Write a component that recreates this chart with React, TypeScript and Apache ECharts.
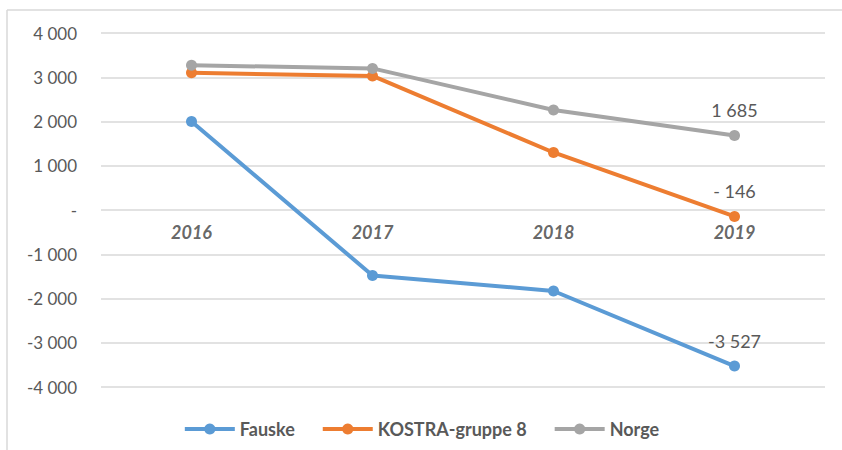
import React, { useEffect, useRef } from "react";
import * as echarts from "echarts";

const years = ["2016", "2017", "2018", "2019"];
const fauske = [2000, -1480, -1830, -3527];
const kostra = [3100, 3030, 1300, -146];
const norge = [3270, 3200, 2260, 1685];
const yTicks = [-4000, 4000, 1000];

const FONT = "Lato, 'Liberation Sans', sans-serif";

function fmtNum(v: number): string {
  const s = Math.abs(v).toString().replace(/\B(?=(\d{3})+(?!\d))/g, " ");
  return (v < 0 ? "-" : "") + s;
}
function fmtAxis(v: number): string {
  return v === 0 ? "-" : fmtNum(v);
}

export default function App() {
  const ref = useRef<HTMLDivElement>(null);
  useEffect(() => {
    if (!ref.current) return;
    const chart = echarts.init(ref.current, null, { renderer: "svg" });
    const last = years.length - 1;
    const mk = (name: string, data: number[], color: string, fmt: (v: number) => string) => ({
      name,
      type: "line",
      data: data.map((v, i) =>
        i === last
          ? {
              value: v,
              label: {
                show: true,
                position: "top",
                distance: 11,
                formatter: () => fmt(v),
                color: "#595959",
                fontSize: 18,
                fontFamily: FONT,
              },
            }
          : v
      ),
      symbol: "circle",
      symbolSize: 11,
      lineStyle: { color, width: 4 },
      itemStyle: { color },
      label: { show: false },
      z: 3,
    });
    chart.setOption({
      animation: false,
      backgroundColor: "#ffffff",
      color: ["#5b9bd5", "#ed7d31", "#a5a5a5"],
      grid: { left: 101, right: 17, top: 33, bottom: 63 },
      xAxis: {
        type: "category",
        data: years,
        boundaryGap: true,
        axisLine: { show: false },
        axisTick: { show: false },
        axisLabel: { show: false },
      },
      yAxis: {
        type: "value",
        min: yTicks[0],
        max: yTicks[1],
        interval: yTicks[2],
        axisLine: { show: false },
        axisTick: { show: false },
        splitLine: { lineStyle: { color: "#d9d9d9", width: 1.5 } },
        axisLabel: {
          margin: 24,
          fontSize: 17,
          color: "#595959",
          fontFamily: FONT,
          formatter: (v: number) => fmtAxis(v),
        },
      },
      legend: {
        bottom: 7,
        left: "center",
        itemWidth: 50,
        itemHeight: 14,
        itemGap: 26,
        lineStyle: { width: 4 },
        textStyle: { color: "#595959", fontSize: 18, fontWeight: "bold", fontFamily: FONT },
        data: ["Fauske", "KOSTRA-gruppe 8", "Norge"],
      },
      graphic: [
        { type: "line", shape: { x1: 7, y1: 10, x2: 842, y2: 10 }, style: { stroke: "#d9d9d9", lineWidth: 1.5 } },
        { type: "line", shape: { x1: 7, y1: 10, x2: 7, y2: 450 }, style: { stroke: "#d9d9d9", lineWidth: 1.5 } },
      ],
      series: [
        mk("Fauske", fauske, "#5b9bd5", fmtNum),
        mk("KOSTRA-gruppe 8", kostra, "#ed7d31", (v) => (v < 0 ? "- " + fmtNum(-v) : fmtNum(v))),
        mk("Norge", norge, "#a5a5a5", fmtNum),
        {
          name: "years",
          type: "scatter",
          silent: true,
          symbolSize: 0,
          data: years.map((y) => [y, 0]),
          label: {
            show: true,
            position: "bottom",
            distance: 13,
            formatter: (p: any) => p.value[0],
            fontSize: 18,
            fontStyle: "italic",
            fontWeight: "bold",
            color: "#404040",
            fontFamily: FONT,
          },
          z: 1,
        },
      ],
    });
    return () => chart.dispose();
  }, []);
  return <div ref={ref} style={{ position: "absolute", left: 0, top: 0, width: 842, height: 450 }} />;
}
